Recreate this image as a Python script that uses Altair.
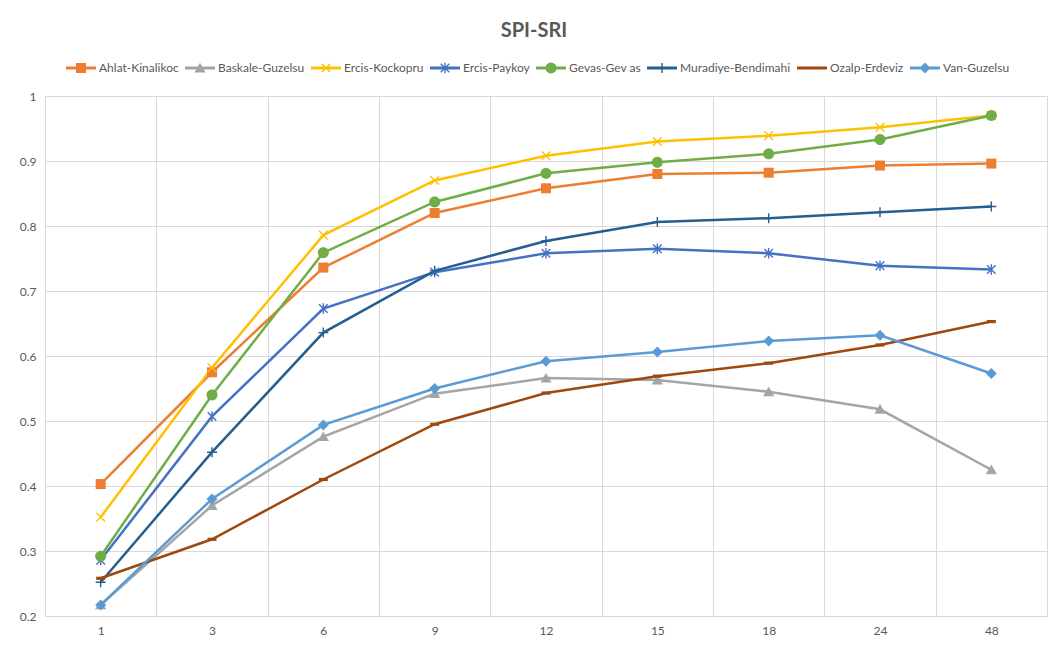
import altair as alt
import pandas as pd
import math

# ---- data ----
durations = ["1", "3", "6", "9", "12", "15", "18", "24", "48"]
series = ["Ahlat-Kinalikoc", "Baskale-Guzelsu", "Ercis-Kockopru", "Ercis-Paykoy",
          "Gevas-Gev as", "Muradiye-Bendimahi", "Ozalp-Erdeviz", "Van-Guzelsu"]

ahlat_kinalikoc = [0.403, 0.575, 0.736, 0.820, 0.858, 0.880, 0.882, 0.893, 0.896]
baskale_guzelsu = [0.217, 0.370, 0.476, 0.542, 0.566, 0.563, 0.545, 0.518, 0.425]
ercis_kockopru = [0.352, 0.582, 0.786, 0.870, 0.908, 0.930, 0.939, 0.952, 0.970]
ercis_paykoy = [0.286, 0.507, 0.673, 0.729, 0.758, 0.765, 0.758, 0.739, 0.733]
gevas_gevas = [0.292, 0.540, 0.759, 0.837, 0.881, 0.898, 0.911, 0.933, 0.970]
muradiye_bendimahi = [0.252, 0.452, 0.636, 0.731, 0.777, 0.806, 0.812, 0.821, 0.830]
ozalp_erdeviz = [0.258, 0.318, 0.410, 0.495, 0.543, 0.569, 0.589, 0.617, 0.653]
van_guzelsu = [0.217, 0.380, 0.494, 0.550, 0.592, 0.606, 0.623, 0.632, 0.573]

values = [ahlat_kinalikoc, baskale_guzelsu, ercis_kockopru, ercis_paykoy,
          gevas_gevas, muradiye_bendimahi, ozalp_erdeviz, van_guzelsu]

rows = []
for name, vals in zip(series, values):
    for d, v in zip(durations, vals):
        rows.append({"series": name, "duration": d, "value": v})
df = pd.DataFrame(rows)

# ---- styling ----
colors = ["#ED7D31", "#A5A5A5", "#FFC000", "#4472C4",
          "#70AD47", "#255E91", "#9E480E", "#5B9BD5"]
TXT = "#595959"
GRID = "#D9D9D9"
FONT = "Lato"

R = 15.0  # symbol half-extent in px (size = (2R)^2)
SIZE = (2 * R) ** 2


def orient(poly):
    s = 0
    for i in range(len(poly)):
        x1, y1 = poly[i]
        x2, y2 = poly[(i + 1) % len(poly)]
        s += x1 * y2 - x2 * y1
    return poly if s > 0 else poly[::-1]


def path(polys):
    out = ""
    for p in polys:
        p = orient(p)
        out += "M" + "L".join(f"{x / R:.4f},{y / R:.4f}" for x, y in p) + "Z"
    return out


def bar(x1, y1, x2, y2, w):
    dx, dy = x2 - x1, y2 - y1
    L = (dx * dx + dy * dy) ** 0.5
    nx, ny = -dy / L * w, dx / L * w
    return [(x1 + nx, y1 + ny), (x2 + nx, y2 + ny), (x2 - nx, y2 - ny), (x1 - nx, y1 - ny)]


def rect(hw, hh):
    return [(-hw, -hh), (hw, -hh), (hw, hh), (-hw, hh)]


circle = [(5.5 * math.cos(2 * math.pi * k / 28), 5.5 * math.sin(2 * math.pi * k / 28)) for k in range(28)]
a = 4.3
markers = [
    [rect(5, 5)],                                        # square
    [[(0, -5.2), (5.6, 4.4), (-5.6, 4.4)]],             # triangle
    [bar(-a, -a, a, a, 0.7), bar(-a, a, a, -a, 0.7)],    # x
    [bar(-a, -a, a, a, 0.7), bar(-a, a, a, -a, 0.7), bar(0, -5.2, 0, 5.2, 0.7)],  # asterisk
    [circle],                                            # circle
    [bar(-5, 0, 5, 0, 0.7), bar(0, -5, 0, 5, 0.7)],      # plus
    [rect(4.5, 1.6)],                                    # dash
    [[(0, -5.5), (5.5, 0), (0, 5.5), (-5.5, 0)]],        # diamond
]
line_seg = rect(R, 1.5)
marker_paths = [path(m) for m in markers]
legend_paths = [path([line_seg] + m) for m in markers]

marker_expr = "".join(
    f"datum.series === '{s}' ? '{p}' : " for s, p in zip(series, marker_paths)
) + "'circle'"

xenc = alt.X("duration:O", sort=durations, bandPosition=0.5,
             scale=alt.Scale(type="band", paddingInner=0, paddingOuter=0),
             axis=alt.Axis(title=None, grid=True, tickBand="extent", ticks=False,
                           domain=True, domainColor=GRID, gridColor=GRID, gridWidth=1,
                           labelColor=TXT, labelFont=FONT, labelFontSize=12,
                           labelPadding=9, labelAngle=0))
yenc = alt.Y("value:Q",
             scale=alt.Scale(domain=[0.2, 1.0], nice=False, zero=False),
             axis=alt.Axis(title=None, values=[0.2, 0.3, 0.4, 0.5, 0.6, 0.7, 0.8, 0.9, 1.0],
                           format="~g", grid=True, gridColor=GRID, gridWidth=1,
                           domain=False, ticks=False, labelColor=TXT, labelFont=FONT,
                           labelFontSize=12, labelPadding=9))

leg = alt.Legend(title=None, orient="none", direction="horizontal", columns=8,
                 legendX=21, legendY=-43, symbolSize=SIZE, symbolOpacity=1,
                 symbolStrokeWidth=0, labelFont=FONT, labelFontSize=12,
                 labelColor=TXT, labelOffset=3, columnPadding=6, labelLimit=300)

color = alt.Color("series:N", sort=series,
                  scale=alt.Scale(domain=series, range=colors), legend=leg)

lines = alt.Chart(df).mark_line(strokeWidth=2.5).encode(
    x=xenc, y=yenc, color=color, detail="series:N")

pts = alt.Chart(df).transform_calculate(mk=marker_expr).mark_point(
    filled=True, size=SIZE, opacity=1, strokeWidth=0).encode(
    x=xenc, y=yenc, color=color,
    shape=alt.Shape("mk:N", scale=None, legend=None))

legend_layer = alt.Chart(df).mark_point(filled=True, size=SIZE, opacity=0, strokeWidth=0).encode(
    x=xenc, y=yenc, color=color,
    shape=alt.Shape("series:N", sort=series,
                    scale=alt.Scale(domain=series, range=legend_paths), legend=leg))

chart = alt.layer(lines, pts, legend_layer).properties(
    width=1002, height=520,
    title=alt.TitleParams("SPI-SRI", fontSize=20, fontWeight="bold", color=TXT,
                          font=FONT, anchor="middle", offset=12, dx=-12),
    autosize=alt.AutoSizeParams(type="none"),
    padding={"left": 37, "top": 88, "right": 5, "bottom": 22},
    background="white",
).configure_view(stroke=None)

chart.save("out.html", embed_options={"renderer": "svg", "actions": False})
